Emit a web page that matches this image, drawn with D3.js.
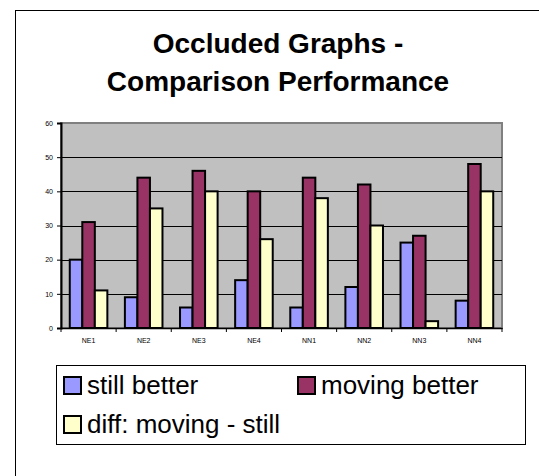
<!DOCTYPE html>
<meta charset="utf-8">
<body style="margin:0;background:#fff">
<script src="https://d3js.org/d3.v7.min.js"></script>
<script>

// 데이터
var categories = ["NE1", "NE2", "NE3", "NE4", "NN1", "NN2", "NN3", "NN4"];
var seriesNames = ["still better", "moving better", "diff: moving - still"];
var stillBetter = [20, 9, 6, 14, 6, 12, 25, 8];
var movingBetter = [31, 44, 46, 40, 44, 42, 27, 48];
var diffMovingStill = [11, 35, 40, 26, 38, 30, 2, 40];
var yTicks = [0, 10, 20, 30, 40, 50, 60];
var titleLines = ["Occluded Graphs -", "Comparison Performance"];

var seriesValues = [stillBetter, movingBetter, diffMovingStill];
var colors = ["#9999FF", "#993366", "#FFFFCC"];

var width = 539,
    height = 476;

var svg = d3.select("body").append("svg")
    .attr("width", width)
    .attr("height", height)
    .style("display", "block")
    .style("font-family", "Arial, 'Liberation Sans', sans-serif");

// 바깥 테두리
svg.append("rect")
    .attr("x", 15.5).attr("y", 10.5)
    .attr("width", 540).attr("height", 480)
    .attr("fill", "#fff")
    .attr("stroke", "#000")
    .attr("stroke-width", 1);

// 제목
svg.append("g").selectAll("text")
  .data(titleLines)
  .enter().append("text")
    .attr("x", 278)
    .attr("y", function(d, i) { return 53 + i * 38; })
    .attr("text-anchor", "middle")
    .attr("font-size", 28)
    .attr("font-weight", "bold")
    .text(function(d) { return d; });

var plot = {left: 61, top: 123, right: 502, bottom: 328};

var x = d3.scaleBand()
    .domain(categories)
    .range([plot.left, plot.right]);

var xInner = d3.scaleBand()
    .domain(d3.range(seriesNames.length))
    .range([0, x.bandwidth()])
    .paddingOuter(0.7);

var y = d3.scaleLinear()
    .domain([0, 60])
    .range([plot.bottom, plot.top]);

// 플롯 영역
svg.append("rect")
    .attr("x", plot.left).attr("y", plot.top)
    .attr("width", plot.right - plot.left)
    .attr("height", plot.bottom - plot.top)
    .attr("fill", "#C0C0C0")
    .attr("stroke", "#808080")
    .attr("stroke-width", 2);

// 격자선
svg.append("g").selectAll("line")
  .data(yTicks.filter(function(d) { return d > 0 && d < 60; }))
  .enter().append("line")
    .attr("x1", plot.left).attr("x2", plot.right)
    .attr("y1", function(d) { return Math.round(y(d)) + 0.5; })
    .attr("y2", function(d) { return Math.round(y(d)) + 0.5; })
    .attr("stroke", "#000")
    .attr("stroke-width", 1);

// 막대
var group = svg.append("g").selectAll("g")
  .data(categories)
  .enter().append("g")
    .attr("transform", function(d) { return "translate(" + x(d) + ",0)"; });

group.selectAll("rect")
  .data(function(d, i) { return seriesValues.map(function(s, k) { return {k: k, v: s[i]}; }); })
  .enter().append("rect")
    .attr("x", function(d) { return xInner(d.k); })
    .attr("width", xInner.bandwidth())
    .attr("y", function(d) { return y(d.v); })
    .attr("height", function(d) { return y(0) - y(d.v); })
    .attr("fill", function(d) { return colors[d.k]; })
    .attr("stroke", "#000")
    .attr("stroke-width", 2);

// y축
var yAxis = svg.append("g")
    .attr("transform", "translate(" + plot.left + ",0)")
    .call(d3.axisLeft(y).tickValues(yTicks).tickSize(4).tickPadding(4));
yAxis.selectAll("text").attr("font-size", 7).attr("fill", "#000").attr("font-family", "Arial, 'Liberation Sans', sans-serif");
yAxis.selectAll("line").attr("stroke", "#000");
yAxis.select(".domain").attr("stroke", "#000").attr("stroke-width", 2);

// x축
var xAxis = svg.append("g")
    .attr("transform", "translate(0," + plot.bottom + ")")
    .call(d3.axisBottom(x).tickSize(0).tickPadding(10));
xAxis.select(".domain").attr("stroke", "#000").attr("stroke-width", 1.5);
xAxis.selectAll("text").attr("font-size", 7).attr("fill", "#000").attr("font-family", "Arial, 'Liberation Sans', sans-serif");

svg.append("g").selectAll("line")
  .data(categories.concat(["end"]))
  .enter().append("line")
    .attr("x1", function(d) { return d === "end" ? plot.right : x(d); })
    .attr("x2", function(d) { return d === "end" ? plot.right : x(d); })
    .attr("y1", plot.bottom)
    .attr("y2", plot.bottom + 4)
    .attr("stroke", "#000");

// 범례
svg.append("rect")
    .attr("x", 56.5).attr("y", 365.5)
    .attr("width", 469).attr("height", 79)
    .attr("fill", "#fff")
    .attr("stroke", "#000")
    .attr("stroke-width", 1);

var legendPos = [[64, 394], [298, 394], [64, 433]];

var legend = svg.append("g").selectAll("g")
  .data(seriesNames)
  .enter().append("g")
    .attr("transform", function(d, i) { return "translate(" + legendPos[i][0] + "," + legendPos[i][1] + ")"; });

legend.append("rect")
    .attr("x", 0).attr("y", -17)
    .attr("width", 17).attr("height", 17)
    .attr("fill", function(d, i) { return colors[i]; })
    .attr("stroke", "#000")
    .attr("stroke-width", 2);

legend.append("text")
    .attr("x", 23)
    .attr("y", 0)
    .attr("font-size", 26)
    .text(function(d) { return d; });

</script>
</body>
